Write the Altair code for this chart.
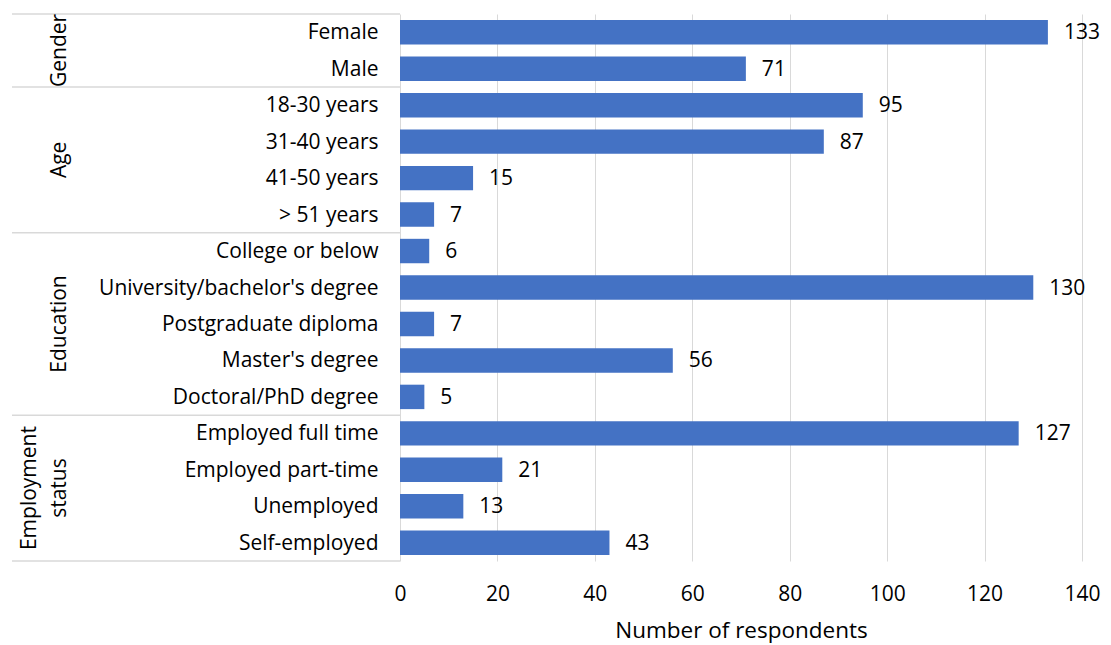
import altair as alt
import pandas as pd

groups = ["Gender", "Gender", "Age", "Age", "Age", "Age",
          "Education", "Education", "Education", "Education", "Education",
          "Employment status", "Employment status", "Employment status", "Employment status"]
categories = ["Female", "Male", "18-30 years", "31-40 years", "41-50 years", "> 51 years",
              "College or below", "University/bachelor's degree", "Postgraduate diploma",
              "Master's degree", "Doctoral/PhD degree",
              "Employed full time", "Employed part-time", "Unemployed", "Self-employed"]
values = [133, 71, 95, 87, 15, 7, 6, 130, 7, 56, 5, 127, 21, 13, 43]
group_names = ["Gender", "Age", "Education", "Employment\nstatus"]
group_sizes = [2, 4, 5, 4]
x_ticks = [0, 20, 40, 60, 80, 100, 120, 140]

FONT = "Open Sans"
FS = 21
df = pd.DataFrame({"group": groups, "category": categories, "value": values})

mids, bounds = [], [0]
s = 0
for n in group_sizes:
    mids.append(s + n / 2)
    s += n
    bounds.append(s)
gdf = pd.DataFrame({"name": group_names, "mid": mids, "lines": [1, 1, 1, 2]})
bdf = pd.DataFrame({"pos": bounds})

yq = alt.Scale(domain=[0, len(categories)], reverse=True)

yband = alt.Y("category:N", sort=categories,
              scale=alt.Scale(paddingInner=0.33, paddingOuter=0.165),
              axis=alt.Axis(title=None, labelFontSize=FS, labelFont=FONT, labelColor="black",
                            labelPadding=22, labelOffset=1, ticks=False, domain=False,
                            labelLimit=400))
xq = alt.X("value:Q", scale=alt.Scale(domain=[0, 140]),
           axis=alt.Axis(values=x_ticks, grid=True, gridColor="#d9d9d9", domain=False,
                         ticks=False, labelFontSize=FS, labelFont=FONT, labelColor="black",
                         labelPadding=22, labelFlush=False,
                         title="Number of respondents", titleFontSize=22.5,
                         titleFont=FONT, titleFontWeight="normal", titleColor="black",
                         titlePadding=15))

base = alt.Chart(df)
bars = base.mark_bar(color="#4472C4").encode(y=yband, x=xq)
labels = base.mark_text(align="left", dx=16, dy=1, fontSize=FS, font=FONT, color="black").encode(
    y=yband, x=xq, text="value:Q")

rules = alt.Chart(bdf).mark_rule(color="#d9d9d9", strokeWidth=1.5).encode(
    y=alt.Y("pos:Q", scale=yq, axis=None), x=alt.value(-388), x2=alt.value(0))
g1 = alt.Chart(gdf).transform_filter("datum.lines == 1").mark_text(
    angle=270, fontSize=FS, font=FONT, color="black", align="center", baseline="middle").encode(
    y=alt.Y("mid:Q", scale=yq, axis=None), x=alt.value(-340), text="name:N")
g2 = alt.Chart(gdf).transform_filter("datum.lines == 2").mark_text(
    angle=270, fontSize=FS, font=FONT, color="black", align="center", baseline="middle",
    lineBreak="\n", lineHeight=30).encode(
    y=alt.Y("mid:Q", scale=yq, axis=None), x=alt.value(-370), text="name:N")

chart = alt.layer(alt.layer(bars, labels), alt.layer(rules, g1, g2)).resolve_scale(
    y="independent").properties(
    width=682, height=547,
    autosize=alt.AutoSizeParams(type="none"),
    padding={"left": 392, "top": 6, "right": 20, "bottom": 90},
).configure_view(stroke=None)

chart.save("out.html", embed_options={"renderer": "svg", "actions": False})
